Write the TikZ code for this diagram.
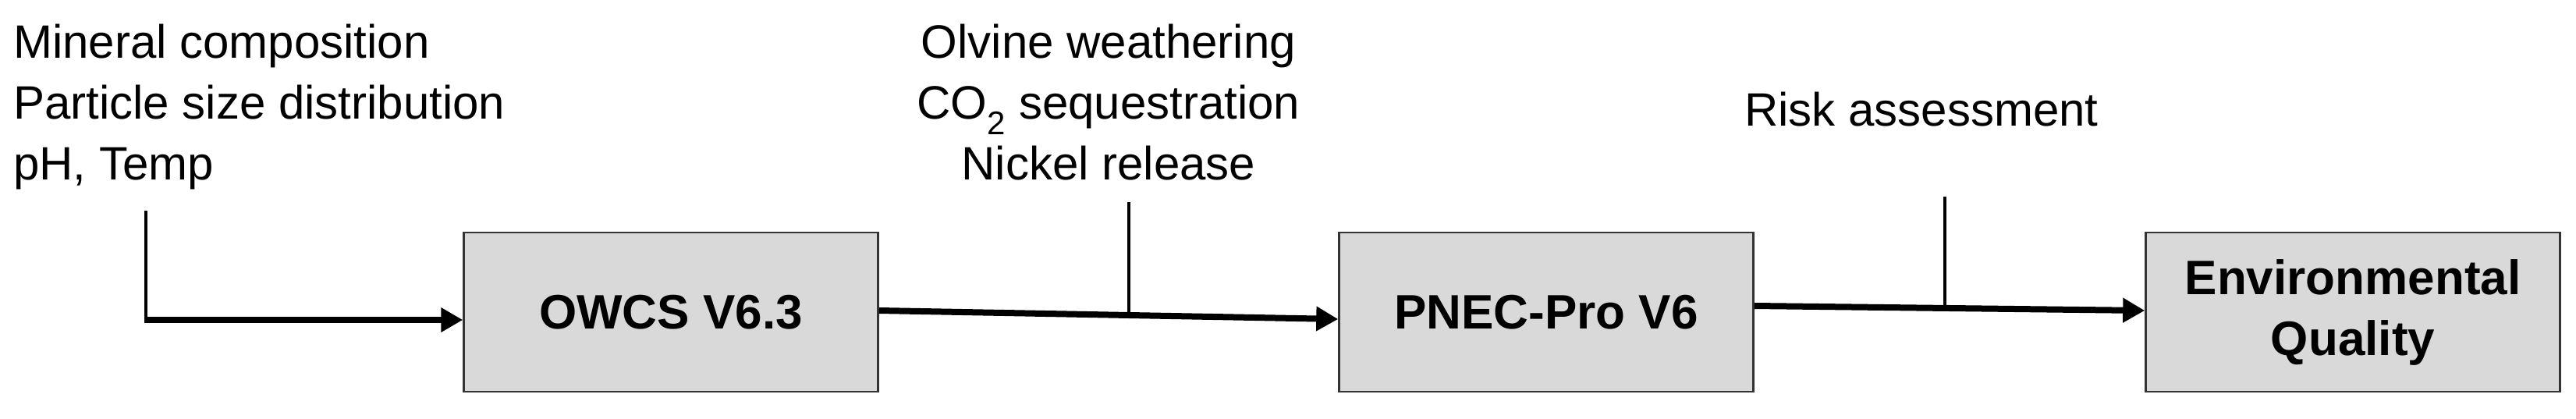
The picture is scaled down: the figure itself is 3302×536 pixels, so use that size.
\documentclass[tikz,border=0pt]{standalone}
\usepackage{fontspec}
\setmainfont{Liberation Sans}
\usetikzlibrary{arrows.meta}
\begin{document}
\begin{tikzpicture}[x=1pt,y=-1pt,
  box/.style={draw=black!80,line width=2.5pt,fill=black!15,minimum width=531pt,minimum height=204pt,inner sep=0pt,font=\fontsize{62}{78}\selectfont\bfseries,align=center},
  lbl/.style={font=\fontsize{60}{78}\selectfont,inner sep=0pt},
  flow/.style={line width=8pt,-{Triangle[length=28pt,width=30pt]}},
  tick/.style={line width=4pt}]
\useasboundingbox (0,0) rectangle (3302,536);
\node[box] (owcs) at (860,400) {OWCS V6.3};
\node[box] (pnec) at (1982,400) {PNEC-Pro V6};
\node[box] (env) at (3016,400) {Environmental\\Quality};
\node[lbl,anchor=base west,align=left] (in) at (17,230) {Mineral composition\\Particle size distribution\\pH, Temp};
\node[lbl,anchor=base,align=center] (mid) at (1421,230) {Olvine weathering\\CO\textsubscript{2} sequestration\\Nickel release};
\node[lbl,anchor=base] (risk) at (2463,161) {Risk assessment};
\coordinate (a0) at (187,270);
\coordinate (a1) at (187,410);
\coordinate (m0) at (1447,259);
\coordinate (m1) at (1447,404);
\coordinate (r0) at (2493,252);
\coordinate (r1) at (2493,396);
\draw[tick] (a0) -- (a1);
\draw[flow] ([xshift=-2pt]a1) -- (owcs.west |- a1);
\draw[tick] (m0) -- (m1);
\draw[flow] ([yshift=2pt]owcs.east) -- ([yshift=-9pt]pnec.west);
\draw[tick] (r0) -- (r1);
\draw[flow] ([yshift=8pt]pnec.east) -- ([yshift=2pt]env.west);
\end{tikzpicture}
\end{document}
